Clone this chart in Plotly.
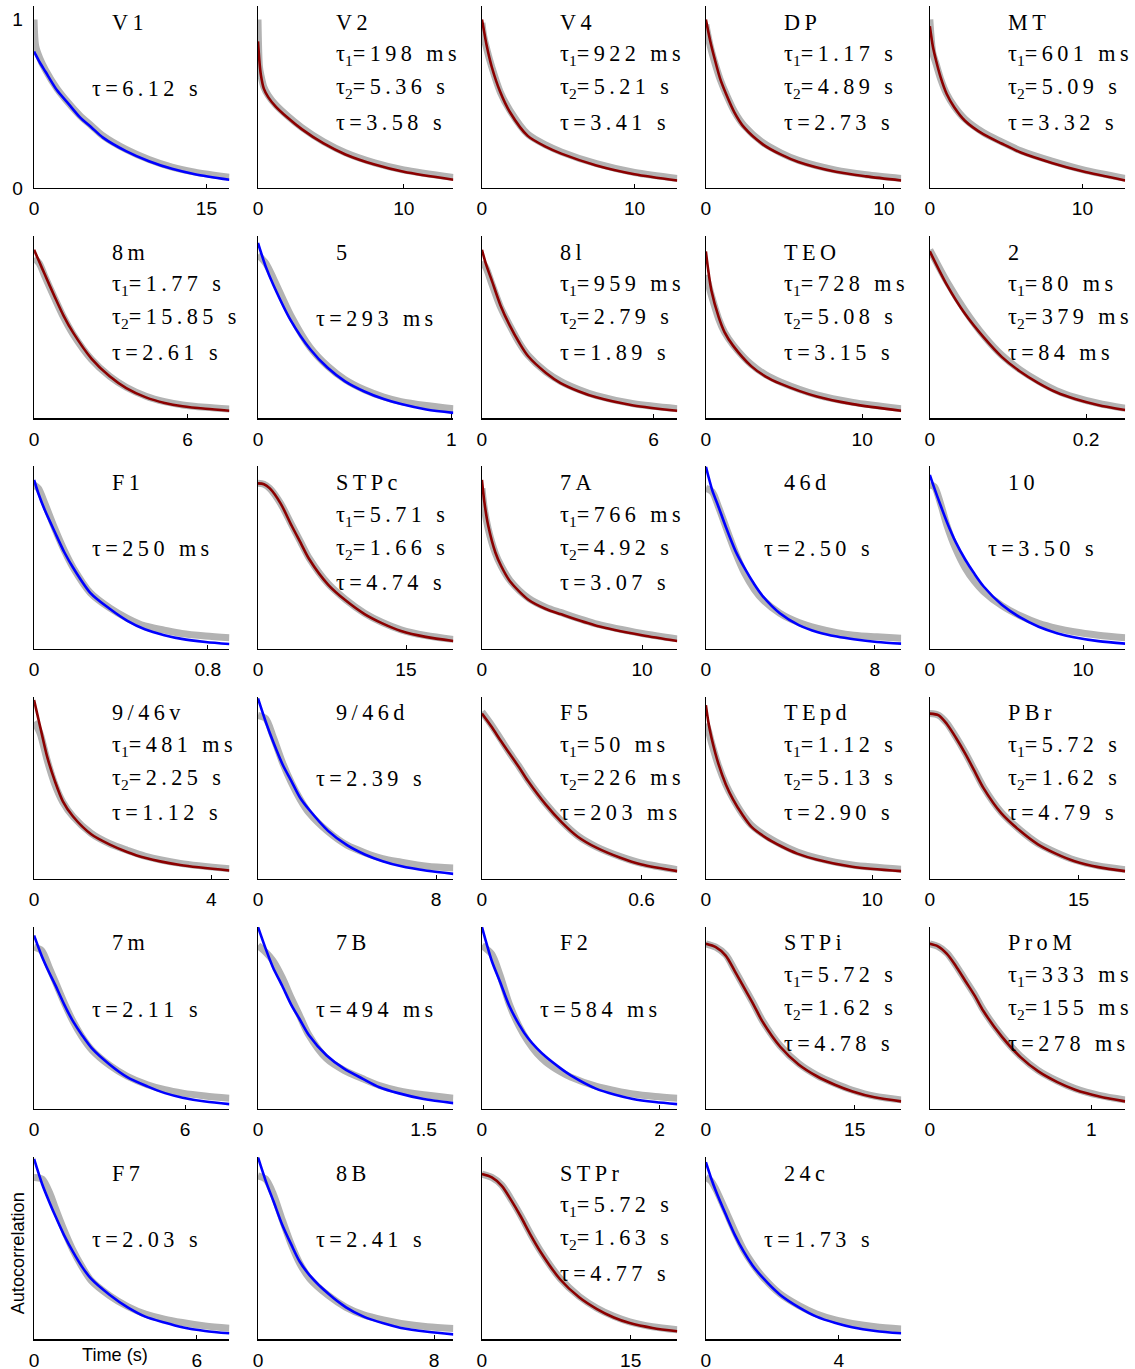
import plotly.graph_objects as go

# ---------------- data ----------------
areas = ["V1", "V2", "V4", "DP", "MT",
         "8m", "5", "8l", "TEO", "2",
         "F1", "STPc", "7A", "46d", "10",
         "9/46v", "9/46d", "F5", "TEpd", "PBr",
         "7m", "7B", "F2", "STPi", "ProM",
         "F7", "8B", "STPr", "24c"]

fit_type = ["single", "double", "double", "double", "double",
            "double", "single", "double", "double", "double",
            "single", "double", "double", "single", "single",
            "double", "single", "double", "double", "double",
            "single", "single", "single", "double", "double",
            "single", "single", "double", "single"]

tau1_labels = [None, "198 ms", "922 ms", "1.17 s", "601 ms",
               "1.77 s", None, "959 ms", "728 ms", "80 ms",
               None, "5.71 s", "766 ms", None, None,
               "481 ms", None, "50 ms", "1.12 s", "5.72 s",
               None, None, None, "5.72 s", "333 ms",
               None, None, "5.72 s", None]

tau2_labels = [None, "5.36 s", "5.21 s", "4.89 s", "5.09 s",
               "15.85 s", None, "2.79 s", "5.08 s", "379 ms",
               None, "1.66 s", "4.92 s", None, None,
               "2.25 s", None, "226 ms", "5.13 s", "1.62 s",
               None, None, None, "1.62 s", "155 ms",
               None, None, "1.63 s", None]

tau_labels = ["6.12 s", "3.58 s", "3.41 s", "2.73 s", "3.32 s",
              "2.61 s", "293 ms", "1.89 s", "3.15 s", "84 ms",
              "250 ms", "4.74 s", "3.07 s", "2.50 s", "3.50 s",
              "1.12 s", "2.39 s", "203 ms", "2.90 s", "4.79 s",
              "2.11 s", "494 ms", "584 ms", "4.78 s", "278 ms",
              "2.03 s", "2.41 s", "4.77 s", "1.73 s"]

x_tick_value = [15, 10, 10, 10, 10,
                6, 1, 6, 10, 0.2,
                0.8, 15, 10, 8, 10,
                4, 8, 0.6, 10, 15,
                6, 1.5, 2, 15, 1,
                6, 8, 15, 4]

x_max = [17.0, 13.4, 12.8, 10.97, 12.8,
         7.63, 1.01, 6.83, 12.5, 0.25,
         0.90, 19.8, 12.2, 9.25, 12.75,
         4.41, 8.78, 0.734, 11.75, 19.7,
         7.76, 1.77, 2.2, 19.7, 1.21,
         7.2, 8.88, 19.7, 5.88]

# time lags (s), data autocorrelation (gray), fitted curve (coloured)
t_V1 = [0, 0.15, 0.5, 1, 2, 3, 4, 5, 6, 8, 10, 12, 14, 17]
gray_V1 = [1.0, 0.84, 0.77, 0.70, 0.59, 0.505, 0.43, 0.37, 0.31, 0.23, 0.17, 0.125, 0.095, 0.065]
fit_V1 = [0.81, 0.79, 0.745, 0.69, 0.58, 0.50, 0.42, 0.36, 0.30, 0.22, 0.16, 0.115, 0.083, 0.050]

t_V2 = [0, 0.1, 0.2, 0.4, 0.7, 1.2, 2, 3, 4.5, 6, 8, 10, 13.4]
gray_V2 = [1.0, 0.72, 0.67, 0.60, 0.55, 0.495, 0.43, 0.36, 0.275, 0.21, 0.15, 0.108, 0.064]
fit_V2 = [0.87, 0.75, 0.67, 0.59, 0.54, 0.485, 0.42, 0.35, 0.265, 0.20, 0.14, 0.097, 0.05]

t_V4 = [0, 0.1, 0.3, 0.64, 1.2, 1.84, 3, 4.2, 5.2, 7.5, 10, 12.8]
gray_V4 = [0.98, 0.91, 0.83, 0.72, 0.57, 0.46, 0.32, 0.255, 0.215, 0.145, 0.093, 0.058]
fit_V4 = [1.0, 0.95, 0.85, 0.72, 0.57, 0.45, 0.31, 0.245, 0.205, 0.135, 0.083, 0.046]

t_DP = [0, 0.25, 0.51, 0.8, 1.13, 1.6, 2.15, 3.2, 4.2, 5.2, 7.3, 9, 10.97]
gray_DP = [0.97, 0.84, 0.74, 0.645, 0.56, 0.455, 0.37, 0.27, 0.21, 0.165, 0.107, 0.08, 0.058]
fit_DP = [1.0, 0.87, 0.76, 0.65, 0.56, 0.45, 0.36, 0.26, 0.20, 0.155, 0.097, 0.07, 0.046]

t_MT = [0, 0.2, 0.4, 0.7, 1.1, 1.6, 2.3, 3.5, 4.7, 6, 8, 10, 12.8]
gray_MT = [1.0, 0.80, 0.74, 0.65, 0.56, 0.485, 0.41, 0.33, 0.275, 0.22, 0.16, 0.11, 0.058]
fit_MT = [0.96, 0.84, 0.76, 0.66, 0.56, 0.48, 0.40, 0.32, 0.265, 0.21, 0.15, 0.10, 0.046]

t_8m = [0, 0.2, 0.4, 0.81, 1.15, 1.52, 2.24, 2.95, 3.6, 4.37, 5.1, 5.8, 6.7, 7.63]
gray_8m = [0.95, 0.92, 0.85, 0.71, 0.60, 0.50, 0.35, 0.25, 0.185, 0.132, 0.10, 0.08, 0.066, 0.056]
fit_8m = [1.0, 0.93, 0.86, 0.72, 0.61, 0.51, 0.355, 0.25, 0.18, 0.125, 0.092, 0.072, 0.057, 0.046]

t_5 = [0, 0.04, 0.08, 0.17, 0.27, 0.36, 0.45, 0.55, 0.65, 0.74, 0.87, 1.01]
gray_5 = [0.97, 0.92, 0.83, 0.61, 0.42, 0.31, 0.23, 0.17, 0.127, 0.10, 0.077, 0.058]
fit_5 = [1.04, 0.90, 0.79, 0.58, 0.41, 0.30, 0.22, 0.16, 0.115, 0.085, 0.053, 0.033]

t_8l = [0, 0.15, 0.34, 0.65, 0.975, 1.3, 1.61, 2.24, 2.75, 3.4, 4.0, 5.3, 6.83]
gray_8l = [0.93, 0.89, 0.80, 0.66, 0.55, 0.45, 0.375, 0.275, 0.22, 0.17, 0.135, 0.087, 0.058]
fit_8l = [1.0, 0.91, 0.82, 0.67, 0.55, 0.45, 0.37, 0.27, 0.21, 0.16, 0.125, 0.077, 0.046]

t_TEO = [0, 0.15, 0.35, 0.82, 1.2, 1.75, 2.9, 3.8, 4.8, 7.1, 9.4, 12.5]
gray_TEO = [0.85, 0.80, 0.73, 0.59, 0.51, 0.435, 0.32, 0.26, 0.215, 0.14, 0.095, 0.058]
fit_TEO = [0.99, 0.88, 0.76, 0.60, 0.51, 0.43, 0.31, 0.25, 0.205, 0.13, 0.085, 0.046]

t_2 = [0, 0.022, 0.045, 0.069, 0.092, 0.115, 0.139, 0.162, 0.186, 0.215, 0.25]
gray_2 = [1.0, 0.81, 0.64, 0.49, 0.375, 0.29, 0.22, 0.165, 0.125, 0.09, 0.06]
fit_2 = [0.99, 0.79, 0.62, 0.48, 0.365, 0.28, 0.21, 0.155, 0.115, 0.08, 0.05]

t_F1 = [0, 0.02, 0.05, 0.096, 0.14, 0.18, 0.26, 0.35, 0.43, 0.51, 0.6, 0.68, 0.79, 0.9]
gray_F1 = [0.97, 0.95, 0.86, 0.71, 0.58, 0.48, 0.33, 0.24, 0.18, 0.135, 0.11, 0.09, 0.075, 0.065]
fit_F1 = [1.0, 0.92, 0.82, 0.69, 0.57, 0.48, 0.33, 0.235, 0.165, 0.115, 0.08, 0.058, 0.04, 0.028]

t_STPc = [0, 0.6, 1.2, 2.3, 3.4, 4.3, 5.2, 7.1, 8.9, 10.8, 12.6, 14.5, 17, 19.8]
gray_STPc = [0.98, 0.975, 0.95, 0.86, 0.735, 0.635, 0.535, 0.385, 0.29, 0.21, 0.155, 0.112, 0.078, 0.055]
fit_STPc = [0.98, 0.975, 0.95, 0.86, 0.73, 0.63, 0.53, 0.38, 0.285, 0.205, 0.15, 0.105, 0.07, 0.046]

t_7A = [0, 0.15, 0.39, 0.84, 1.2, 1.75, 2.9, 4.0, 4.9, 7.2, 10, 12.2]
gray_7A = [0.95, 0.83, 0.71, 0.565, 0.49, 0.405, 0.30, 0.245, 0.215, 0.145, 0.09, 0.058]
fit_7A = [1.0, 0.87, 0.73, 0.57, 0.49, 0.40, 0.29, 0.235, 0.205, 0.135, 0.08, 0.046]

t_46d = [0, 0.3, 0.6, 0.95, 1.4, 1.82, 2.3, 2.7, 3.5, 4.4, 5.3, 6.2, 7.0, 8.1, 9.25]
gray_46d = [0.95, 0.93, 0.84, 0.72, 0.57, 0.45, 0.35, 0.29, 0.21, 0.155, 0.12, 0.095, 0.08, 0.07, 0.062]
fit_46d = [1.08, 0.94, 0.84, 0.72, 0.58, 0.48, 0.38, 0.31, 0.21, 0.14, 0.098, 0.072, 0.056, 0.04, 0.03]

t_10 = [0, 0.3, 0.7, 1.12, 1.7, 2.3, 2.9, 3.5, 4.7, 5.9, 7.1, 8.3, 9.4, 11, 12.75]
gray_10 = [0.97, 0.96, 0.86, 0.73, 0.59, 0.48, 0.40, 0.34, 0.255, 0.195, 0.15, 0.12, 0.10, 0.08, 0.065]
fit_10 = [1.03, 0.95, 0.85, 0.75, 0.63, 0.53, 0.445, 0.37, 0.26, 0.185, 0.13, 0.092, 0.068, 0.045, 0.03]

t_9_46v = [0, 0.07, 0.14, 0.3, 0.47, 0.65, 0.88, 1.29, 1.7, 2.1, 2.5, 3.3, 4.41]
gray_9_46v = [0.93, 0.90, 0.86, 0.70, 0.56, 0.455, 0.37, 0.27, 0.21, 0.17, 0.135, 0.092, 0.06]
fit_9_46v = [1.06, 0.98, 0.90, 0.72, 0.58, 0.46, 0.37, 0.265, 0.205, 0.16, 0.125, 0.082, 0.05]

t_9_46d = [0, 0.35, 0.69, 1.1, 1.5, 1.9, 2.3, 3.15, 4.0, 4.8, 5.6, 6.4, 7.6, 8.78]
gray_9_46d = [0.97, 0.95, 0.84, 0.69, 0.57, 0.47, 0.39, 0.28, 0.20, 0.155, 0.12, 0.10, 0.075, 0.065]
fit_9_46d = [1.07, 0.93, 0.81, 0.68, 0.58, 0.48, 0.41, 0.285, 0.20, 0.145, 0.105, 0.076, 0.048, 0.03]

t_F5 = [0, 0.037, 0.07, 0.105, 0.14, 0.173, 0.24, 0.3, 0.36, 0.43, 0.52, 0.6, 0.734]
gray_F5 = [0.99, 0.91, 0.83, 0.745, 0.665, 0.585, 0.445, 0.34, 0.255, 0.19, 0.132, 0.093, 0.055]
fit_F5 = [0.98, 0.90, 0.82, 0.74, 0.66, 0.58, 0.44, 0.335, 0.25, 0.185, 0.125, 0.085, 0.046]

t_TEpd = [0, 0.15, 0.33, 0.76, 1.2, 1.64, 2.2, 2.73, 3.6, 4.5, 5.5, 6.65, 8.8, 11.75]
gray_TEpd = [0.92, 0.88, 0.81, 0.67, 0.56, 0.475, 0.385, 0.32, 0.255, 0.205, 0.16, 0.125, 0.082, 0.058]
fit_TEpd = [1.03, 0.93, 0.84, 0.68, 0.56, 0.47, 0.38, 0.31, 0.245, 0.195, 0.15, 0.115, 0.072, 0.046]

t_PBr = [0, 0.9, 1.7, 2.6, 3.6, 4.5, 5.4, 7.2, 9.1, 10.9, 12.7, 14.6, 17, 19.7]
gray_PBr = [0.98, 0.97, 0.925, 0.845, 0.745, 0.645, 0.545, 0.395, 0.29, 0.21, 0.157, 0.112, 0.077, 0.055]
fit_PBr = [0.98, 0.97, 0.92, 0.84, 0.74, 0.64, 0.54, 0.39, 0.285, 0.205, 0.15, 0.105, 0.07, 0.046]

t_7m = [0, 0.3, 0.6, 0.83, 1.2, 1.55, 1.9, 2.3, 3.0, 3.7, 4.5, 5.2, 5.9, 6.8, 7.76]
gray_7m = [0.96, 0.94, 0.84, 0.76, 0.63, 0.52, 0.43, 0.35, 0.26, 0.195, 0.145, 0.115, 0.095, 0.078, 0.065]
fit_7m = [1.03, 0.91, 0.81, 0.74, 0.62, 0.52, 0.44, 0.36, 0.265, 0.19, 0.135, 0.095, 0.068, 0.045, 0.03]

t_7B = [0, 0.07, 0.136, 0.22, 0.3, 0.38, 0.46, 0.62, 0.78, 0.95, 1.1, 1.27, 1.5, 1.77]
gray_7B = [0.97, 0.93, 0.88, 0.78, 0.66, 0.55, 0.44, 0.30, 0.23, 0.18, 0.14, 0.11, 0.085, 0.065]
fit_7B = [1.08, 0.95, 0.84, 0.73, 0.62, 0.53, 0.44, 0.32, 0.24, 0.18, 0.13, 0.095, 0.06, 0.036]

t_F2 = [0, 0.11, 0.2, 0.31, 0.42, 0.52, 0.62, 0.72, 0.89, 1.0, 1.29, 1.5, 1.7, 1.95, 2.2]
gray_F2 = [0.97, 0.92, 0.80, 0.62, 0.49, 0.40, 0.33, 0.28, 0.22, 0.19, 0.135, 0.11, 0.09, 0.075, 0.065]
fit_F2 = [1.08, 0.88, 0.76, 0.61, 0.50, 0.42, 0.36, 0.31, 0.24, 0.20, 0.12, 0.085, 0.06, 0.042, 0.03]

t_STPi = [0, 1.0, 2.0, 2.9, 3.85, 4.8, 5.7, 7.5, 9.35, 11.2, 13, 14.8, 17, 19.7]
gray_STPi = [0.98, 0.96, 0.915, 0.825, 0.725, 0.625, 0.525, 0.375, 0.27, 0.20, 0.152, 0.112, 0.077, 0.055]
fit_STPi = [0.98, 0.96, 0.91, 0.82, 0.72, 0.62, 0.52, 0.37, 0.265, 0.195, 0.145, 0.105, 0.07, 0.046]

t_ProM = [0, 0.05, 0.106, 0.16, 0.22, 0.28, 0.333, 0.446, 0.56, 0.67, 0.79, 0.9, 1.05, 1.21]
gray_ProM = [0.98, 0.965, 0.925, 0.855, 0.765, 0.675, 0.585, 0.435, 0.315, 0.23, 0.167, 0.122, 0.082, 0.055]
fit_ProM = [0.98, 0.965, 0.92, 0.85, 0.76, 0.67, 0.58, 0.43, 0.31, 0.225, 0.16, 0.115, 0.075, 0.046]

t_F7 = [0, 0.3, 0.6, 0.76, 1.1, 1.43, 1.77, 2.1, 2.78, 3.45, 4.1, 4.8, 5.46, 6.3, 7.2]
gray_F7 = [0.96, 0.95, 0.86, 0.79, 0.65, 0.53, 0.43, 0.35, 0.26, 0.195, 0.15, 0.12, 0.10, 0.08, 0.066]
fit_F7 = [1.07, 0.92, 0.80, 0.74, 0.62, 0.52, 0.43, 0.36, 0.265, 0.19, 0.135, 0.10, 0.072, 0.05, 0.036]

t_8B = [0, 0.35, 0.7, 1.1, 1.52, 1.9, 2.35, 3.2, 4.0, 4.8, 5.7, 6.5, 7.7, 8.88]
gray_8B = [0.97, 0.95, 0.86, 0.71, 0.56, 0.45, 0.36, 0.26, 0.19, 0.145, 0.115, 0.095, 0.075, 0.065]
fit_8B = [1.08, 0.94, 0.82, 0.68, 0.56, 0.46, 0.38, 0.27, 0.19, 0.135, 0.095, 0.068, 0.045, 0.03]

t_STPr = [0, 1.0, 2.0, 2.9, 3.9, 4.9, 5.9, 7.9, 9.8, 11.6, 13.3, 14.9, 17.2, 19.7]
gray_STPr = [0.98, 0.96, 0.915, 0.835, 0.735, 0.625, 0.525, 0.36, 0.255, 0.185, 0.137, 0.104, 0.075, 0.057]
fit_STPr = [0.98, 0.96, 0.91, 0.83, 0.73, 0.62, 0.52, 0.355, 0.25, 0.18, 0.13, 0.097, 0.068, 0.048]

t_24c = [0, 0.15, 0.3, 0.6, 0.87, 1.14, 1.4, 1.69, 2.23, 2.8, 3.33, 3.9, 4.4, 5.1, 5.88]
gray_24c = [0.96, 0.94, 0.89, 0.76, 0.64, 0.53, 0.45, 0.375, 0.27, 0.20, 0.15, 0.115, 0.095, 0.075, 0.062]
fit_24c = [1.05, 0.96, 0.88, 0.74, 0.62, 0.52, 0.44, 0.37, 0.265, 0.19, 0.135, 0.097, 0.072, 0.05, 0.036]

times = [t_V1, t_V2, t_V4, t_DP, t_MT, t_8m, t_5, t_8l, t_TEO, t_2,
         t_F1, t_STPc, t_7A, t_46d, t_10, t_9_46v, t_9_46d, t_F5, t_TEpd, t_PBr,
         t_7m, t_7B, t_F2, t_STPi, t_ProM, t_F7, t_8B, t_STPr, t_24c]
grays = [gray_V1, gray_V2, gray_V4, gray_DP, gray_MT, gray_8m, gray_5, gray_8l, gray_TEO, gray_2,
         gray_F1, gray_STPc, gray_7A, gray_46d, gray_10, gray_9_46v, gray_9_46d, gray_F5, gray_TEpd, gray_PBr,
         gray_7m, gray_7B, gray_F2, gray_STPi, gray_ProM, gray_F7, gray_8B, gray_STPr, gray_24c]
fits = [fit_V1, fit_V2, fit_V4, fit_DP, fit_MT, fit_8m, fit_5, fit_8l, fit_TEO, fit_2,
        fit_F1, fit_STPc, fit_7A, fit_46d, fit_10, fit_9_46v, fit_9_46d, fit_F5, fit_TEpd, fit_PBr,
        fit_7m, fit_7B, fit_F2, fit_STPi, fit_ProM, fit_F7, fit_8B, fit_STPr, fit_24c]

# ---------------- layout / style ----------------
# the page is captured with a slight overall reduction; place everything in
# page pixels so that it lands on the intended picture pixels
K, X_OFF = 0.991, 5.0


def px(x):          # picture x  -> page x
    return (x - X_OFF) / K


def py(y):          # picture y  -> page y
    return y / K


W, H = 1135, 1381
COL_LEFT = [34, 257.5, 481, 704.5, 928]      # picture pixels
PW_PIC = 195
ROW_BOTTOM0, ROW_STEP, PH_PIC = 188, 230, 182
Y_TOP = 1.08

GRAY = "#b3b3b3"
BLUE = "#0000ff"
RED = "#8b0000"
SERIF = "Liberation Serif, Times New Roman, serif"
SANS = "Liberation Sans, Arial, sans-serif"
THIN = "\u2009"
TXT_SIZE = 22 / K
TICK_SIZE = 19 / K
TITLE_SIZE = 18 / K


def spaced(s):
    return THIN.join(s)


def fmt_tick(v):
    return str(int(v)) if float(v).is_integer() else str(v)


def clamp(v):
    return min(1.0, max(0.0, v))


fig = go.Figure()
annotations = []

for i, name in enumerate(areas):
    r, c = divmod(i, 5)
    n = i + 1
    xa = "x" if n == 1 else f"x{n}"
    ya = "y" if n == 1 else f"y{n}"
    x0 = px(COL_LEFT[c])
    x1 = px(COL_LEFT[c] + PW_PIC)
    yb = py(ROW_BOTTOM0 + ROW_STEP * r)
    yt = py(ROW_BOTTOM0 + ROW_STEP * r - PH_PIC)
    xdom = [clamp(x0 / W), clamp(x1 / W)]
    ydom = [clamp(1 - yb / H), clamp(1 - yt / H)]

    fig.add_trace(go.Scatter(x=times[i], y=grays[i], mode="lines",
                             line=dict(color=GRAY, width=7, shape="spline", smoothing=0.8),
                             xaxis=xa, yaxis=ya, showlegend=False, hoverinfo="skip"))
    fig.add_trace(go.Scatter(x=times[i], y=fits[i], mode="lines",
                             line=dict(color=BLUE if fit_type[i] == "single" else RED,
                                       width=2.6, shape="spline", smoothing=0.8),
                             xaxis=xa, yaxis=ya, showlegend=False, hoverinfo="skip"))

    xkey = "xaxis" if n == 1 else f"xaxis{n}"
    ykey = "yaxis" if n == 1 else f"yaxis{n}"
    fig.layout[xkey] = dict(
        domain=xdom, anchor=ya, range=[0, x_max[i]],
        showline=True, linecolor="black", linewidth=1.2, mirror=False,
        showgrid=False, zeroline=False,
        ticks="inside", ticklen=4, tickwidth=1, tickcolor="black",
        tickvals=[0, x_tick_value[i]], ticktext=["0", fmt_tick(x_tick_value[i])],
        tickfont=dict(family=SANS, size=TICK_SIZE, color="black"),
        ticklabelstandoff=3, fixedrange=True)
    fig.layout[ykey] = dict(
        domain=ydom, anchor=xa, range=[0, Y_TOP],
        showline=True, linecolor="black", linewidth=1.2,
        showgrid=False, zeroline=False,
        ticks="", tickvals=[0, 1], ticktext=["0", "1"],
        showticklabels=(n == 1),
        tickfont=dict(family=SANS, size=TICK_SIZE, color="black"),
        ticklabelstandoff=6, fixedrange=True)

    xr = f"{xa} domain"
    yr = f"{ya} domain"

    def ypos(off):
        return 1 - off / PH_PIC

    annotations.append(dict(text=spaced(name), x=76 / PW_PIC, y=ypos(16), xref=xr, yref=yr,
                            xanchor="left", yanchor="middle", showarrow=False,
                            font=dict(family=SERIF, size=TXT_SIZE, color="black")))
    if fit_type[i] == "double":
        lines = [("τ<sub>1</sub>=" + THIN + spaced(tau1_labels[i]), 49),
                 ("τ<sub>2</sub>=" + THIN + spaced(tau2_labels[i]), 82),
                 ("τ" + THIN + "=" + THIN + spaced(tau_labels[i]), 116)]
        xl = 76 / PW_PIC
    else:
        lines = [("τ" + THIN + "=" + THIN + spaced(tau_labels[i]), 82)]
        xl = 56 / PW_PIC
    for txt, off in lines:
        annotations.append(dict(text=txt, x=xl, y=ypos(off), xref=xr, yref=yr,
                                xanchor="left", yanchor="middle", showarrow=False,
                                font=dict(family=SERIF, size=TXT_SIZE, color="black")))

annotations.append(dict(text="Time (s)", x=px(115) / W, y=1 - py(1354) / H,
                        xref="paper", yref="paper",
                        xanchor="center", yanchor="middle", showarrow=False,
                        font=dict(family=SANS, size=TITLE_SIZE, color="black")))
annotations.append(dict(text="Autocorrelation", x=px(18) / W, y=1 - py(1252) / H,
                        xref="paper", yref="paper",
                        xanchor="center", yanchor="middle", showarrow=False, textangle=-90,
                        font=dict(family=SANS, size=TITLE_SIZE, color="black")))

fig.update_layout(width=W, height=H, margin=dict(l=0, r=0, t=0, b=0),
                  paper_bgcolor="white", plot_bgcolor="white",
                  annotations=annotations)

page_fix = ("var b=document.body, h=document.documentElement;"
            "b.style.margin='0'; b.style.padding='0';"
            "b.style.overflow='hidden'; h.style.overflow='hidden';")
fig.write_html("out.html", post_script=page_fix,
               config={"displayModeBar": False, "staticPlot": True})
